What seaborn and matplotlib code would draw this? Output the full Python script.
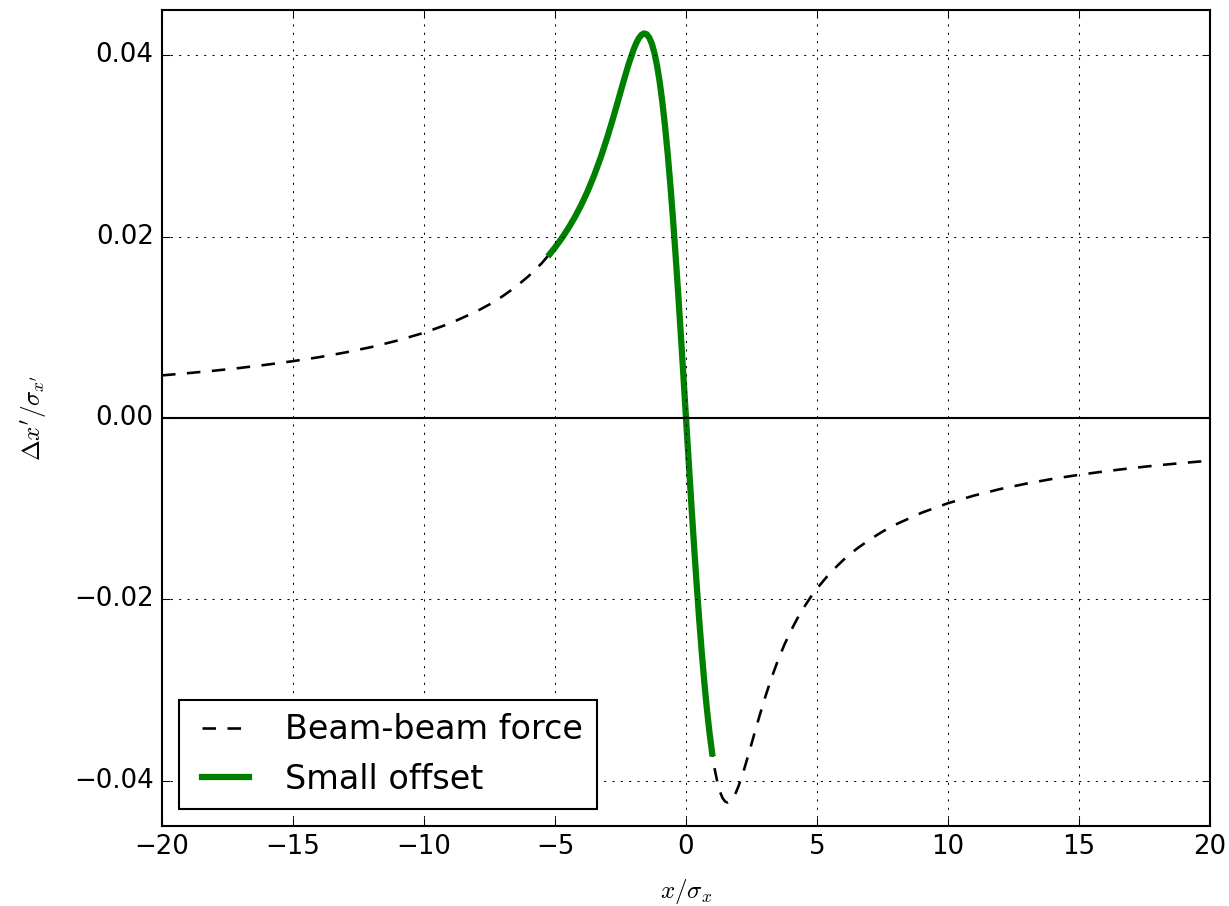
import matplotlib
matplotlib.use("Agg")
import matplotlib.pyplot as plt
import seaborn as sns
import pandas as pd

# Beam-beam kick versus normalised transverse position
x_force = [-20, -19, -18, -17, -16, -15, -14, -13, -12, -11, -10, -9, -8, -7.5, -7,
           -6.5, -6, -5.5, -5, -4.75, -4.5, -4.25, -4, -3.75, -3.5, -3.25, -3,
           -2.8, -2.6, -2.4, -2.2, -2,
           -1.9, -1.8, -1.7, -1.6, -1.5, -1.4, -1.3, -1.2, -1.1, -1, -0.9, -0.8,
           -0.7, -0.6, -0.5, -0.4, -0.3, -0.2, -0.1,
           0, 0.1, 0.2, 0.3, 0.4, 0.5, 0.6, 0.7, 0.8, 0.9, 1, 1.1, 1.2, 1.3, 1.4,
           1.5, 1.6, 1.7, 1.8, 1.9, 2, 2.2, 2.4, 2.6, 2.8, 3, 3.25, 3.5, 3.75, 4,
           4.25, 4.5, 4.75, 5,
           5.5, 6, 6.5, 7, 7.5, 8, 9, 10, 11, 12, 13, 14, 15, 16, 17, 18, 19, 20]
y_force = [0.0047, 0.00495, 0.00522, 0.00553, 0.00588, 0.00627, 0.00671, 0.00723,
           0.00783, 0.00855, 0.0094, 0.01044, 0.01175, 0.01253, 0.01343,
           0.01446, 0.01567, 0.01709, 0.0188, 0.01979, 0.02089, 0.02211, 0.02349,
           0.02504, 0.0268, 0.02878, 0.03099,
           0.03291, 0.03492, 0.03697, 0.03893, 0.04064,
           0.04134, 0.04189, 0.04226, 0.04242, 0.04232, 0.04194, 0.04125, 0.0402,
           0.03879, 0.03699, 0.03478, 0.03218, 0.02918, 0.02581, 0.02209, 0.01807,
           0.01379, 0.00931, 0.00469,
           0.0, -0.00469, -0.00931, -0.01379, -0.01807, -0.02209, -0.02581,
           -0.02918, -0.03218, -0.03478, -0.03699, -0.03879, -0.0402, -0.04125,
           -0.04194, -0.04232, -0.04242, -0.04226, -0.04189, -0.04134, -0.04064,
           -0.03893, -0.03697, -0.03492, -0.03291, -0.03099, -0.02878, -0.0268,
           -0.02504, -0.02349, -0.02211, -0.02089, -0.01979, -0.0188,
           -0.01709, -0.01567, -0.01446, -0.01343, -0.01253,
           -0.01175, -0.01044, -0.0094, -0.00855, -0.00783, -0.00723, -0.00671,
           -0.00627, -0.00588, -0.00553, -0.00522, -0.00495, -0.0047]

# Small-offset branch of the same kick
x_small = [-5.2, -5, -4.75, -4.5, -4.25, -4, -3.75, -3.5, -3.25, -3, -2.8, -2.6,
           -2.4, -2.2, -2, -1.9, -1.8,
           -1.7, -1.6, -1.5, -1.4, -1.3, -1.2, -1.1, -1, -0.9, -0.8, -0.7, -0.6,
           -0.5, -0.4, -0.3, -0.2, -0.1, 0, 0.1, 0.2, 0.3, 0.4, 0.5, 0.6, 0.7,
           0.8, 0.9, 1.0]
y_small = [0.01808, 0.0188, 0.01979, 0.02089, 0.02211, 0.02349, 0.02504, 0.0268,
           0.02878, 0.03099, 0.03291, 0.03492,
           0.03697, 0.03893, 0.04064, 0.04134, 0.04189, 0.04226, 0.04242, 0.04232,
           0.04194, 0.04125, 0.0402, 0.03879, 0.03699, 0.03478, 0.03218, 0.02918,
           0.02581, 0.02209, 0.01807, 0.01379, 0.00931, 0.00469, 0.0, -0.00469,
           -0.00931, -0.01379, -0.01807, -0.02209, -0.02581, -0.02918, -0.03218,
           -0.03478, -0.03699]

x_ticks = [-20, -15, -10, -5, 0, 5, 10, 15, 20]
y_ticks = [-0.04, -0.02, 0.0, 0.02, 0.04]

plt.style.use("classic")
plt.rcParams["lines.scale_dashes"] = False

df_force = pd.DataFrame({"x": x_force, "y": y_force})
df_small = pd.DataFrame({"x": x_small, "y": y_small})

fig, ax = plt.subplots(figsize=(1229 / 150, 906 / 150), dpi=150)
fig.subplots_adjust(left=162 / 1229, right=1210 / 1229,
                    bottom=80 / 906, top=1 - 10 / 906)

sns.lineplot(data=df_force, x="x", y="y", ax=ax, color="k", linewidth=1.25,
             sort=False, estimator=None, label="Beam-beam force")
ax.lines[-1].set_linestyle("--")
ax.lines[-1].set_dashes((6.5, 5.5))
sns.lineplot(data=df_small, x="x", y="y", ax=ax, color=(0, 0.5, 0), linewidth=3.0,
             sort=False, estimator=None, label="Small offset")
ax.axhline(0, color="k", linewidth=1.0)

ax.set_xlim(-20, 20)
ax.set_ylim(-0.045, 0.045)
ax.set_xticks(x_ticks)
ax.set_yticks(y_ticks)
ax.tick_params(labelsize=12.5)
ax.grid(True, color="k", linestyle=":", linewidth=0.5)

ax.set_xlabel(r"$x/\sigma_x$", fontsize=12, labelpad=8)
ax.set_ylabel(r"$\Delta x'/\sigma_{x'}$", fontsize=12, labelpad=12)

ax.legend(loc="lower left", fontsize=16, numpoints=2)

fig.savefig("out.png", dpi=150)
